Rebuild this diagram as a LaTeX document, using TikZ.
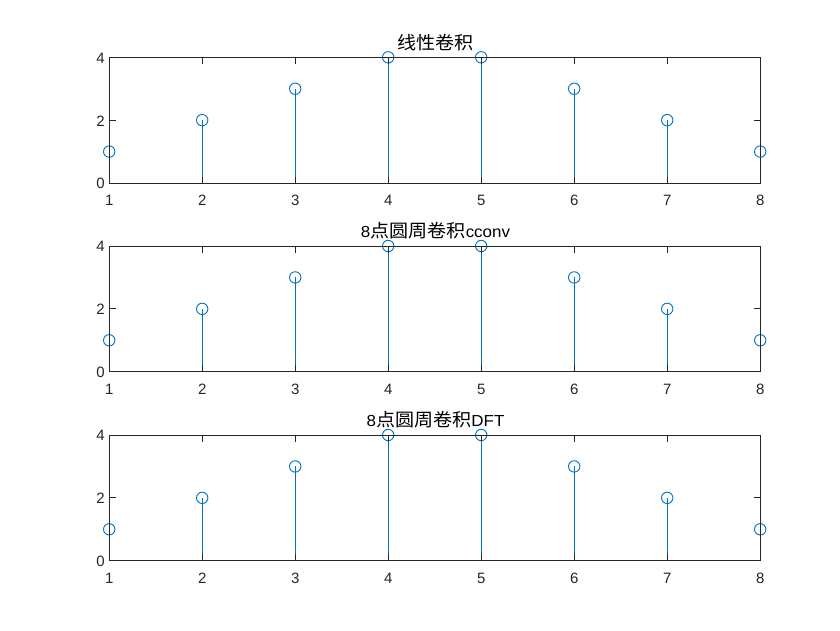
\documentclass[tikz,border=0pt]{standalone}
\usepackage{fontspec}
\usepackage{graphicx}
\setmainfont{Liberation Sans}
\newfontfamily\cjk{Noto Sans CJK SC}
\definecolor{stemblue}{HTML}{0072BD}
\definecolor{axgray}{HTML}{262626}
\newcommand{\cjkt}[1]{{\cjk\fontsize{18}{18}\selectfont #1}}
\begin{document}
\begin{tikzpicture}[x=1pt,y=-1pt,
  axisline/.style={axgray,line width=0.9pt},
  stemline/.style={stemblue,line width=0.9pt},
  markcirc/.style={stemblue,line width=0.9pt},
  ticklbl/.style={font=\fontsize{15}{15}\selectfont,text=axgray,inner sep=0pt},
  titlelbl/.style={font=\fontsize{16}{16}\selectfont,text=black,inner sep=0pt}]
\useasboundingbox (0,0) rectangle (840,630);
\fill[white] (0,0) rectangle (840,630);
\def\axl{109.2}
\def\axr{760.2}
\def\axh{125.7}
\foreach \tp/\ttl [count=\p] in {57.3/{\cjkt{线性卷积}}, 246.0/{8\cjkt{点圆周卷积}cconv}, 435.0/{8\cjkt{点圆周卷积}DFT}} {
  \pgfmathsetmacro\bt{\tp+\axh}
  % stems
  \foreach \v [count=\k] in {1,2,3,4,4,3,2,1} {
    \pgfmathsetmacro\xx{\axl+(\k-1)*93}
    \pgfmathsetmacro\yy{\bt-\v*\axh/4}
    \coordinate (base\p-\k) at (\xx,\bt);
    \coordinate (pt\p-\k) at (\xx,\yy);
    \draw[stemline] (base\p-\k) -- (pt\p-\k);
    \draw[markcirc] (pt\p-\k) circle[radius=5.7pt];
  }
  % axes box
  \draw[axisline] (\axl,\tp) rectangle (\axr,\bt);
  % x ticks
  \foreach \k in {1,...,8} {
    \pgfmathsetmacro\xx{\axl+(\k-1)*93}
    \draw[axisline] (\xx,\bt) -- ++(0,-6.5);
    \draw[axisline] (\xx,\tp) -- ++(0,6.5);
    \node[ticklbl,anchor=base] (xt\p-\k) at (\xx,\bt+22.9) {\k};
  }
  % y ticks
  \foreach \v in {0,2,4} {
    \pgfmathsetmacro\yy{\bt-\v*\axh/4}
    \draw[axisline] (\axl,\yy) -- ++(6.5,0);
    \draw[axisline] (\axr,\yy) -- ++(-6.5,0);
    \node[ticklbl,anchor=east] (yt\p-\v) at (104.8,\yy+0.8) {\v};
  }
  % title
  \node[titlelbl,anchor=base] (title\p) at (435.5,\tp-8.3) {\scalebox{1.06}[1]{\ttl}};
}
\end{tikzpicture}
\end{document}
